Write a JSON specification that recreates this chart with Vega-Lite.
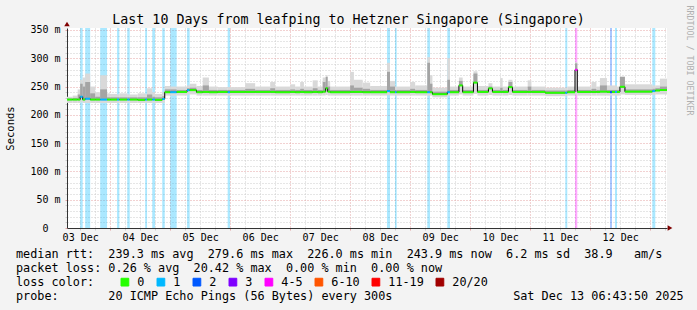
{
  "$schema": "https://vega.github.io/schema/vega-lite/v6.json",
  "width": 600,
  "height": 200,
  "autosize": {"type": "none"},
  "padding": {"left": 67, "top": 28, "right": 30, "bottom": 82},
  "background": "#f3f3f3",
  "config": {
    "view": {"fill": "#ffffff", "stroke": null},
    "font": "DejaVu Sans Mono"
  },
  "title": {
    "text": "Last 10 Days from leafping to Hetzner Singapore (Singapore)",
    "font": "DejaVu Sans Mono",
    "fontSize": 13.3,
    "fontWeight": "normal",
    "color": "#000000",
    "anchor": "middle",
    "dx": -18.5,
    "dy": 18.3,
    "offset": -14.3,
    "baseline": "alphabetic"
  },
  "datasets": {
    "lossbars": [
      {"h": 12, "e": 13, "loss": "1"},
      {"h": 14, "e": 16, "loss": "1"},
      {"h": 20, "e": 22.75, "loss": "1"},
      {"h": 26.75, "e": 27.67, "loss": "1"},
      {"h": 30.83, "e": 31.83, "loss": "1"},
      {"h": 38, "e": 38.75, "loss": "1"},
      {"h": 40.83, "e": 41.92, "loss": "1"},
      {"h": 44.83, "e": 45.83, "loss": "1"},
      {"h": 48, "e": 50.6, "loss": "1"},
      {"h": 54.75, "e": 55.8, "loss": "1"},
      {"h": 71, "e": 71.92, "loss": "1"},
      {"h": 134.73, "e": 135.93, "loss": "1"},
      {"h": 137.93, "e": 138.61, "loss": "1"},
      {"h": 150.85, "e": 151.93, "loss": "1"},
      {"h": 158.85, "e": 159.93, "loss": "1"},
      {"h": 206.05, "e": 206.85, "loss": "1"},
      {"h": 209.93, "e": 210.85, "loss": "4-5"},
      {"h": 223.93, "e": 224.73, "loss": "2"},
      {"h": 225.93, "e": 226.73, "loss": "1"},
      {"h": 240.85, "e": 242.05, "loss": "1"}
    ],
    "rtt": [
      {"h": 6.731, "e": 9, "med": 227, "lo": 221, "hi": 232, "dk": 229, "loss": "0"},
      {"h": 9, "e": 11, "med": 227, "lo": 221, "hi": 234, "dk": 230, "loss": "0"},
      {"h": 11, "e": 12, "med": 227, "lo": 221, "hi": 245, "dk": 236, "loss": "0"},
      {"h": 12, "e": 13, "med": 232, "lo": 222, "hi": 262, "dk": 255, "loss": "1"},
      {"h": 13, "e": 14, "med": 227, "lo": 221, "hi": 266, "dk": 250, "loss": "0"},
      {"h": 14, "e": 16, "med": 228.5, "lo": 221, "hi": 273, "dk": 258, "loss": "1"},
      {"h": 16, "e": 18, "med": 227, "lo": 221, "hi": 250, "dk": 238, "loss": "0"},
      {"h": 18, "e": 20, "med": 227, "lo": 221, "hi": 240, "dk": 232, "loss": "0"},
      {"h": 20, "e": 22.75, "med": 227, "lo": 221, "hi": 270, "dk": 245, "loss": "1"},
      {"h": 22.75, "e": 24, "med": 227, "lo": 221, "hi": 238, "dk": 231, "loss": "0"},
      {"h": 24, "e": 26.75, "med": 227, "lo": 221, "hi": 237, "dk": 231, "loss": "0"},
      {"h": 26.75, "e": 27.67, "med": 227, "lo": 221, "hi": 236, "dk": 231, "loss": "1"},
      {"h": 27.67, "e": 30.83, "med": 227, "lo": 221, "hi": 238, "dk": 231, "loss": "0"},
      {"h": 30.83, "e": 31.83, "med": 227, "lo": 221, "hi": 236, "dk": 231, "loss": "1"},
      {"h": 31.83, "e": 35, "med": 227, "lo": 221, "hi": 236, "dk": 231, "loss": "0"},
      {"h": 35, "e": 38, "med": 226.5, "lo": 221, "hi": 238, "dk": 231, "loss": "0"},
      {"h": 38, "e": 38.75, "med": 227, "lo": 221, "hi": 237, "dk": 231, "loss": "1"},
      {"h": 38.75, "e": 40.83, "med": 227, "lo": 221, "hi": 247, "dk": 236, "loss": "0"},
      {"h": 40.83, "e": 41.92, "med": 227, "lo": 221, "hi": 240, "dk": 232, "loss": "1"},
      {"h": 41.92, "e": 44.83, "med": 226.5, "lo": 221, "hi": 237, "dk": 231, "loss": "0"},
      {"h": 44.83, "e": 45.83, "med": 228, "lo": 221, "hi": 240, "dk": 233, "loss": "1"},
      {"h": 45.83, "e": 48, "med": 240, "lo": 234, "hi": 251, "dk": 245, "loss": "0"},
      {"h": 48, "e": 50.6, "med": 240, "lo": 234, "hi": 250, "dk": 245, "loss": "1"},
      {"h": 50.6, "e": 54.75, "med": 240.5, "lo": 234, "hi": 250, "dk": 244, "loss": "0"},
      {"h": 54.75, "e": 55.8, "med": 243.5, "lo": 236, "hi": 252, "dk": 247, "loss": "1"},
      {"h": 55.8, "e": 58.5, "med": 243.7, "lo": 236, "hi": 255, "dk": 248, "loss": "0"},
      {"h": 58.5, "e": 61, "med": 240, "lo": 234, "hi": 251, "dk": 244, "loss": "0"},
      {"h": 61, "e": 63.5, "med": 240.5, "lo": 234, "hi": 266, "dk": 252, "loss": "0"},
      {"h": 63.5, "e": 67, "med": 240, "lo": 234, "hi": 250, "dk": 244, "loss": "0"},
      {"h": 67, "e": 71, "med": 240.5, "lo": 234, "hi": 249, "dk": 244, "loss": "0"},
      {"h": 71, "e": 71.92, "med": 240, "lo": 234, "hi": 249, "dk": 244, "loss": "1"},
      {"h": 71.92, "e": 78, "med": 240.5, "lo": 234, "hi": 249, "dk": 244, "loss": "0"},
      {"h": 78, "e": 82, "med": 240.5, "lo": 234, "hi": 256, "dk": 246, "loss": "0"},
      {"h": 82, "e": 88, "med": 240.5, "lo": 234, "hi": 250, "dk": 244, "loss": "0"},
      {"h": 88, "e": 90, "med": 240.5, "lo": 234, "hi": 258, "dk": 247, "loss": "0"},
      {"h": 90, "e": 96, "med": 240, "lo": 234, "hi": 250, "dk": 244, "loss": "0"},
      {"h": 96, "e": 98, "med": 240.5, "lo": 234, "hi": 254, "dk": 245, "loss": "0"},
      {"h": 98, "e": 100, "med": 240, "lo": 234, "hi": 250, "dk": 244, "loss": "0"},
      {"h": 100, "e": 101.5, "med": 240.5, "lo": 234, "hi": 258, "dk": 246, "loss": "0"},
      {"h": 101.5, "e": 105, "med": 240, "lo": 234, "hi": 250, "dk": 244, "loss": "0"},
      {"h": 105, "e": 107, "med": 240.5, "lo": 234, "hi": 261, "dk": 247, "loss": "0"},
      {"h": 107, "e": 109, "med": 240, "lo": 234, "hi": 250, "dk": 244, "loss": "0"},
      {"h": 109, "e": 110.2, "med": 241, "lo": 234, "hi": 266, "dk": 258, "loss": "0"},
      {"h": 110.2, "e": 111, "med": 247, "lo": 235, "hi": 270, "dk": 267, "loss": "0"},
      {"h": 111, "e": 112, "med": 241, "lo": 234, "hi": 260, "dk": 250, "loss": "0"},
      {"h": 112, "e": 120, "med": 240, "lo": 234, "hi": 250, "dk": 244, "loss": "0"},
      {"h": 120, "e": 121.5, "med": 240.5, "lo": 234, "hi": 276, "dk": 252, "loss": "0"},
      {"h": 121.5, "e": 125, "med": 240.5, "lo": 234, "hi": 262, "dk": 248, "loss": "0"},
      {"h": 125, "e": 128, "med": 240, "lo": 234, "hi": 257, "dk": 246, "loss": "0"},
      {"h": 128, "e": 134.73, "med": 240, "lo": 234, "hi": 251, "dk": 244, "loss": "0"},
      {"h": 134.73, "e": 135.93, "med": 242, "lo": 235, "hi": 292, "dk": 276, "loss": "1"},
      {"h": 135.93, "e": 137.93, "med": 240, "lo": 234, "hi": 260, "dk": 250, "loss": "0"},
      {"h": 137.93, "e": 138.61, "med": 240, "lo": 234, "hi": 250, "dk": 244, "loss": "1"},
      {"h": 138.61, "e": 144, "med": 240, "lo": 234, "hi": 250, "dk": 244, "loss": "0"},
      {"h": 144, "e": 146, "med": 240.5, "lo": 234, "hi": 258, "dk": 246, "loss": "0"},
      {"h": 146, "e": 150.85, "med": 240, "lo": 234, "hi": 252, "dk": 244, "loss": "0"},
      {"h": 150.85, "e": 151.93, "med": 240, "lo": 234, "hi": 302, "dk": 292, "loss": "1"},
      {"h": 151.93, "e": 152.9, "med": 240, "lo": 234, "hi": 270, "dk": 255, "loss": "0"},
      {"h": 152.9, "e": 158.85, "med": 236.5, "lo": 231, "hi": 248, "dk": 241, "loss": "0"},
      {"h": 158.85, "e": 159.93, "med": 240, "lo": 234, "hi": 300, "dk": 262, "loss": "1"},
      {"h": 159.93, "e": 163.5, "med": 240, "lo": 234, "hi": 250, "dk": 244, "loss": "0"},
      {"h": 163.5, "e": 165, "med": 252, "lo": 236, "hi": 266, "dk": 260, "loss": "0"},
      {"h": 165, "e": 169.3, "med": 240, "lo": 234, "hi": 250, "dk": 244, "loss": "0"},
      {"h": 169.3, "e": 170.9, "med": 257, "lo": 237, "hi": 277, "dk": 273, "loss": "0"},
      {"h": 170.9, "e": 175.3, "med": 240.5, "lo": 234, "hi": 251, "dk": 244, "loss": "0"},
      {"h": 175.3, "e": 176.9, "med": 246.7, "lo": 235, "hi": 256, "dk": 250, "loss": "0"},
      {"h": 176.9, "e": 180, "med": 240.5, "lo": 234, "hi": 250, "dk": 244, "loss": "0"},
      {"h": 180, "e": 181, "med": 240.5, "lo": 234, "hi": 265, "dk": 248, "loss": "0"},
      {"h": 181, "e": 183.3, "med": 240.5, "lo": 234, "hi": 250, "dk": 244, "loss": "0"},
      {"h": 183.3, "e": 184.9, "med": 249, "lo": 235, "hi": 262, "dk": 258, "loss": "0"},
      {"h": 184.9, "e": 191, "med": 240.5, "lo": 234, "hi": 250, "dk": 244, "loss": "0"},
      {"h": 191, "e": 192.5, "med": 240.5, "lo": 234, "hi": 261, "dk": 250, "loss": "0"},
      {"h": 192.5, "e": 198, "med": 240.5, "lo": 234, "hi": 250, "dk": 244, "loss": "0"},
      {"h": 198, "e": 206.05, "med": 239, "lo": 233, "hi": 248, "dk": 243, "loss": "0"},
      {"h": 206.05, "e": 206.85, "med": 239, "lo": 233, "hi": 248, "dk": 243, "loss": "1"},
      {"h": 206.85, "e": 209.93, "med": 240, "lo": 234, "hi": 250, "dk": 244, "loss": "0"},
      {"h": 209.93, "e": 210.85, "med": 279.6, "lo": 236, "hi": 293, "dk": 291, "loss": "4-5"},
      {"h": 210.85, "e": 216.5, "med": 240.5, "lo": 234, "hi": 250, "dk": 244, "loss": "0"},
      {"h": 216.5, "e": 218.5, "med": 240.5, "lo": 234, "hi": 258, "dk": 246, "loss": "0"},
      {"h": 218.5, "e": 219.9, "med": 240.5, "lo": 234, "hi": 250, "dk": 244, "loss": "0"},
      {"h": 219.9, "e": 222.7, "med": 241, "lo": 234, "hi": 265, "dk": 252, "loss": "0"},
      {"h": 222.7, "e": 223.93, "med": 240.5, "lo": 234, "hi": 252, "dk": 244, "loss": "0"},
      {"h": 223.93, "e": 224.73, "med": 240, "lo": 234, "hi": 252, "dk": 244, "loss": "2"},
      {"h": 224.73, "e": 225.93, "med": 240.5, "lo": 234, "hi": 252, "dk": 244, "loss": "0"},
      {"h": 225.93, "e": 226.73, "med": 240.5, "lo": 234, "hi": 252, "dk": 244, "loss": "1"},
      {"h": 226.73, "e": 227.9, "med": 240.5, "lo": 234, "hi": 250, "dk": 244, "loss": "0"},
      {"h": 227.9, "e": 229.9, "med": 249.6, "lo": 236, "hi": 268, "dk": 267, "loss": "0"},
      {"h": 229.9, "e": 240.85, "med": 241, "lo": 235, "hi": 254, "dk": 245, "loss": "0"},
      {"h": 240.85, "e": 242.05, "med": 242, "lo": 235, "hi": 252, "dk": 246, "loss": "1"},
      {"h": 242.05, "e": 243.9, "med": 243, "lo": 236, "hi": 252, "dk": 247, "loss": "0"},
      {"h": 243.9, "e": 246.731, "med": 243.9, "lo": 236, "hi": 264, "dk": 250, "loss": "0"}
    ]
  },
  "encoding": {
    "x": {
      "field": "h",
      "type": "quantitative",
      "scale": {"domain": [6.731, 246.731], "nice": false, "zero": false},
      "axis": {
        "values": [12, 18, 24, 30, 36, 42, 48, 54, 60, 66, 72, 78, 84, 90, 96, 102, 108, 114, 120, 126, 132, 138, 144, 150, 156, 162, 168, 174, 180, 186, 192, 198, 204, 210, 216, 222, 228, 234, 240, 246],
        "grid": true,
        "gridColor": {"condition": {"test": "datum.value % 24 === 0", "value": "#e4a4a4"}, "value": "#cccccc"},
        "gridDash": [1, 2],
        "gridWidth": 1,
        "ticks": true,
        "tickSize": 2,
        "tickColor": {"condition": {"test": "datum.value % 24 === 0", "value": "#e4a4a4"}, "value": "#cccccc"},
        "domainColor": "#333333",
        "labelExpr": "datum.value % 24 === 12 ? format(floor(datum.value / 24) + 3, '02d') + ' Dec' : ''",
        "labelFont": "DejaVu Sans Mono",
        "labelFontSize": 10,
        "labelColor": "#000000",
        "labelBaseline": "alphabetic",
        "labelPadding": 10.7,
        "labelOverlap": false,
        "labelBound": false,
        "labelFlush": false,
        "title": [
          "median\u00a0rtt:\u00a0\u00a0239.3\u00a0ms\u00a0avg\u00a0\u00a0279.6\u00a0ms\u00a0max\u00a0\u00a0226.0\u00a0ms\u00a0min\u00a0\u00a0243.9\u00a0ms\u00a0now\u00a0\u00a06.2\u00a0ms\u00a0sd\u00a0\u00a038.9\u00a0\u00a0\u00a0am/s",
          "packet\u00a0loss:\u00a00.26\u00a0%\u00a0avg\u00a0\u00a020.42\u00a0%\u00a0max\u00a0\u00a00.00\u00a0%\u00a0min\u00a0\u00a00.00\u00a0%\u00a0now",
          "loss\u00a0color:",
          "probe:\u00a0\u00a0\u00a0\u00a0\u00a0\u00a0\u00a020\u00a0ICMP\u00a0Echo\u00a0Pings\u00a0(56\u00a0Bytes)\u00a0every\u00a0300s\u00a0\u00a0\u00a0\u00a0\u00a0\u00a0\u00a0\u00a0\u00a0\u00a0\u00a0\u00a0\u00a0\u00a0\u00a0\u00a0\u00a0Sat\u00a0Dec\u00a013\u00a006:43:50\u00a02025"
        ],
        "titleFont": "DejaVu Sans Mono",
        "titleFontSize": 11.8,
        "titleFontWeight": "normal",
        "titleColor": "#000000",
        "titleAlign": "left",
        "titleBaseline": "alphabetic",
        "titleX": -51.5,
        "titleY": 29.5,
        "titleLineHeight": 14
      }
    }
  },
  "layer": [
    {
      "data": {"name": "lossbars"},
      "mark": {"type": "rect", "opacity": 0.33},
      "encoding": {
        "x2": {"field": "e"},
        "fill": {
          "field": "loss",
          "type": "nominal",
          "scale": {
            "domain": ["0", "1", "2", "3", "4-5", "6-10", "11-19", "20/20"],
            "range": ["#26ff00", "#00b8ff", "#0059ff", "#7e00ff", "#ff00ff", "#ff5500", "#ff0000", "#a10000"]
          },
          "legend": {
            "orient": "none",
            "legendX": 52,
            "legendY": 248.1,
            "direction": "horizontal",
            "columns": 8,
            "title": null,
            "padding": 0,
            "symbolType": "square",
            "symbolSize": 60,
            "symbolStrokeColor": "#000000",
            "symbolStrokeWidth": 1,
            "symbolOpacity": 1,
            "labelFont": "DejaVu Sans Mono",
            "labelFontSize": 11.8,
            "labelColor": "#000000",
            "labelOffset": 6.5,
            "labelLimit": 300,
            "columnPadding": 10
          }
        }
      }
    },
    {
      "data": {"name": "rtt"},
      "mark": {"type": "rect", "color": "#d9d9d9"},
      "encoding": {
        "x2": {"field": "e"},
        "y": {
          "field": "lo",
          "type": "quantitative",
          "scale": {"domain": [0, 353.5], "nice": false, "zero": true},
          "axis": {
            "values": [0, 10, 20, 30, 40, 50, 60, 70, 80, 90, 100, 110, 120, 130, 140, 150, 160, 170, 180, 190, 200, 210, 220, 230, 240, 250, 260, 270, 280, 290, 300, 310, 320, 330, 340, 350],
            "grid": true,
            "gridColor": {"condition": {"test": "datum.value % 50 === 0", "value": "#e4a4a4"}, "value": "#cccccc"},
            "gridDash": [1, 2],
            "ticks": true,
            "tickSize": 2,
            "tickColor": {"condition": {"test": "datum.value % 50 === 0", "value": "#e4a4a4"}, "value": "#cccccc"},
            "domainColor": "#333333",
            "labelExpr": "datum.value % 50 === 0 ? (datum.value === 0 ? '0' : datum.value + ' m') : ''",
            "labelFont": "DejaVu Sans Mono",
            "labelFontSize": 10,
            "labelColor": "#000000",
            "labelPadding": {"condition": {"test": "datum.value === 0", "value": 17}, "value": 5},
            "labelOverlap": false,
            "labelBound": false,
            "labelFlush": false,
            "title": "Seconds",
            "titleFont": "DejaVu Sans Mono",
            "titleFontSize": 10.5,
            "titleFontWeight": "normal",
            "titleColor": "#000000",
            "titleX": -57,
            "titleBaseline": "middle"
          }
        },
        "y2": {"field": "hi"}
      }
    },
    {
      "data": {"name": "rtt"},
      "mark": {"type": "rect", "color": "#a4a4a4"},
      "encoding": {
        "x2": {"field": "e"},
        "y": {"field": "med", "type": "quantitative", "scale": {"domain": [0, 353.5], "nice": false, "zero": true}, "axis": null},
        "y2": {"field": "dk"}
      }
    },
    {
      "data": {"name": "rtt"},
      "mark": {"type": "line", "interpolate": "step-after", "color": "#000000", "strokeWidth": 1},
      "encoding": {
        "y": {
          "field": "med",
          "type": "quantitative",
          "scale": {"domain": [0, 353.5], "nice": false, "zero": true},
          "axis": {
            "orient": "right",
            "title": "RRDTOOL / TOBI OETIKER",
            "labels": false,
            "ticks": false,
            "domain": false,
            "grid": false,
            "titleAngle": 90,
            "titleX": 21,
            "titleY": -23,
            "titleAlign": "left",
            "titleBaseline": "middle",
            "titleFont": "DejaVu Sans Mono",
            "titleFontSize": 8.3,
            "titleFontWeight": "normal",
            "titleColor": "#b0b0b0"
          }
        }
      }
    },
    {
      "data": {"name": "rtt"},
      "mark": {"type": "rule", "strokeWidth": 2},
      "encoding": {
        "x2": {"field": "e"},
        "y": {"field": "med", "type": "quantitative", "scale": {"domain": [0, 353.5], "nice": false, "zero": true}, "axis": null},
        "stroke": {
          "field": "loss",
          "type": "nominal",
          "scale": {
            "domain": ["0", "1", "2", "3", "4-5", "6-10", "11-19", "20/20"],
            "range": ["#26ff00", "#00b8ff", "#0059ff", "#7e00ff", "#ff00ff", "#ff5500", "#ff0000", "#a10000"]
          },
          "legend": null
        }
      }
    },
    {
      "data": {"values": [{"h": 246.731, "v": 0}]},
      "mark": {"type": "point", "shape": "triangle-right", "filled": true, "color": "#7f0000", "size": 30, "opacity": 1, "xOffset": 3, "clip": false},
      "encoding": {
        "y": {"field": "v", "type": "quantitative", "scale": {"domain": [0, 353.5], "nice": false, "zero": true}, "axis": null}
      }
    },
    {
      "data": {"values": [{"h": 6.731, "v": 353.5}]},
      "mark": {"type": "point", "shape": "triangle-up", "filled": true, "color": "#7f0000", "size": 30, "opacity": 1, "yOffset": -4, "clip": false},
      "encoding": {
        "y": {"field": "v", "type": "quantitative", "scale": {"domain": [0, 353.5], "nice": false, "zero": true}, "axis": null}
      }
    }
  ],
  "resolve": {"axis": {"y": "independent"}}
}
